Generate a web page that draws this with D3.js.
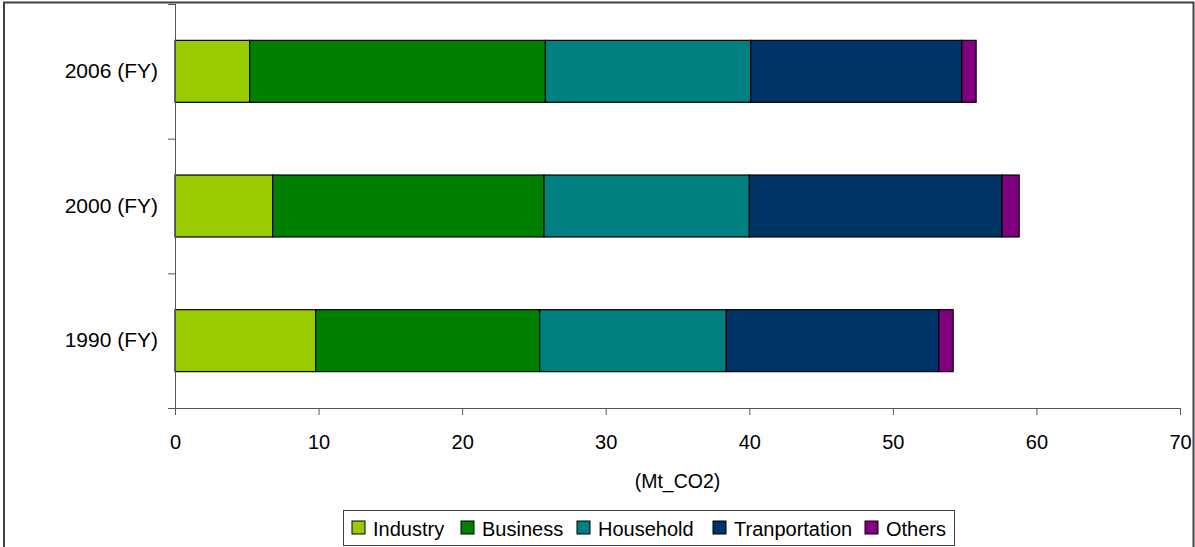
<!DOCTYPE html>
<html>
<head>
<meta charset="utf-8">
<script src="https://cdn.jsdelivr.net/npm/d3@7"></script>
<style>
  body { margin: 0; background: #fff; }
  text { font-family: "Liberation Sans", Arial, sans-serif; }
</style>
</head>
<body>
<div id="chart"></div>
<script>
const years = ["2006 (FY)", "2000 (FY)", "1990 (FY)"];
const sectors = ["Industry", "Business", "Household", "Tranportation", "Others"];
const industry      = [5.2, 6.8, 9.8];
const business      = [20.6, 18.9, 15.6];
const household     = [14.3, 14.3, 13.0];
const transportation = [14.7, 17.6, 14.8];
const others        = [1.0, 1.2, 1.0];
const xTicks = [0, 10, 20, 30, 40, 50, 60, 70];
const colors = ["#99cc00", "#008000", "#008080", "#003366", "#800080"];

const W = 1195, H = 547;
const margin = {top: 4, right: 15, bottom: 139, left: 175},
      width = W - margin.left - margin.right,
      height = H - margin.top - margin.bottom;

const root = d3.select("#chart").append("svg")
  .attr("width", W).attr("height", H);

// outer frame
root.append("rect")
  .attr("x", 4).attr("y", 2.5)
  .attr("width", 1189.5).attr("height", H + 10)
  .attr("fill", "none").attr("stroke", "#404040").attr("stroke-width", 2);

const svg = root.append("g")
  .attr("transform", `translate(${margin.left},${margin.top})`);

const table = years.map((yr, i) => ({
  year: yr,
  Industry: industry[i], Business: business[i], Household: household[i],
  Tranportation: transportation[i], Others: others[i]
}));
const stacked = d3.stack().keys(sectors)(table);

const color = d3.scaleOrdinal().domain(sectors).range(colors);

const y = d3.scaleBand()
  .domain(years)
  .range([0, height])
  .paddingInner(0.54)
  .paddingOuter(0.27);

const x = d3.scaleLinear().domain([0, 70]).range([0, width]);

// bars
svg.selectAll(".layer")
  .data(stacked)
  .enter().append("g")
  .attr("fill", d => color(d.key))
  .selectAll("rect")
  .data(d => d)
  .enter().append("rect")
  .attr("x", d => x(d[0]))
  .attr("y", d => y(d.data.year))
  .attr("width", d => x(d[1]) - x(d[0]))
  .attr("height", y.bandwidth())
  .attr("stroke", "#000")
  .attr("stroke-width", 1.2);

// x axis
const xAxis = svg.append("g")
  .attr("transform", `translate(0,${height})`)
  .call(d3.axisBottom(x).tickValues(xTicks).tickSize(7).tickPadding(20).tickSizeOuter(7));
xAxis.select(".domain").attr("stroke", "#555").attr("d", `M-7,0.5H${width}`);
xAxis.selectAll(".tick line").attr("stroke", "#555");
xAxis.selectAll("text").attr("font-size", 20).attr("fill", "#000")
  .attr("font-family", "Liberation Sans, Arial, sans-serif");

// y axis
const yAxis = svg.append("g")
  .call(d3.axisLeft(y).tickSize(0).tickPadding(17));
yAxis.select(".domain").attr("stroke", "#555").attr("d", `M0.5,0V${height + 7}`);
yAxis.selectAll("text").attr("font-size", 21).attr("fill", "#000")
  .attr("font-family", "Liberation Sans, Arial, sans-serif");

const step = y.step();
const bounds = d3.range(years.length).map(i => i * step);
svg.selectAll(".ytick")
  .data(bounds)
  .enter().append("line")
  .attr("x1", -7).attr("x2", 0)
  .attr("y1", d => d + 0.5).attr("y2", d => d + 0.5)
  .attr("stroke", "#555");

// x label
svg.append("text")
  .attr("x", width / 2)
  .attr("y", height + 80)
  .attr("text-anchor", "middle")
  .attr("font-size", 19.5)
  .text("(Mt_CO2)");

// legend
const legend = root.append("g");
legend.append("rect")
  .attr("x", 343.5).attr("y", 510.5)
  .attr("width", 611).attr("height", 35)
  .attr("fill", "#fff").attr("stroke", "#404040").attr("stroke-width", 1);

const legX = [352, 461, 577, 713, 865];
const items = legend.selectAll(".item")
  .data(sectors)
  .enter().append("g")
  .attr("transform", (d, i) => `translate(${legX[i]},521)`);
items.append("rect")
  .attr("width", 13).attr("height", 13)
  .attr("fill", d => color(d))
  .attr("stroke", "#000").attr("stroke-width", 1);
items.append("text")
  .attr("x", 21).attr("y", 14.5)
  .attr("font-size", 20)
  .text(d => d);
</script>
</body>
</html>
